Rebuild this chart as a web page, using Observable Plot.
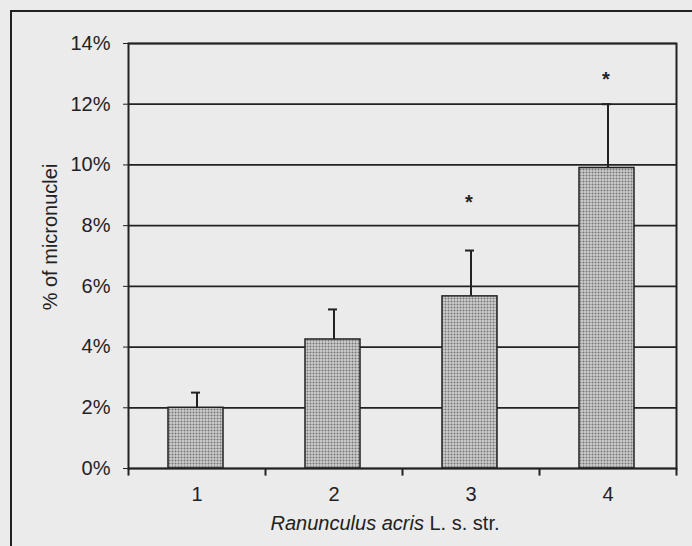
<!DOCTYPE html>
<html>
<head>
<meta charset="utf-8">
<script src="https://cdn.jsdelivr.net/npm/d3@7"></script>
<script src="https://cdn.jsdelivr.net/npm/@observablehq/plot@0.6"></script>
<style>
  html, body { margin: 0; padding: 0; background: #ebebeb; }
  #chart { width: 692px; height: 546px; overflow: hidden; }
</style>
</head>
<body>
<div id="chart"></div>
<script>
// ---- data ----
const categories = ["1", "2", "3", "4"];
const values = [2.0, 4.25, 5.67, 9.9];          // % of micronuclei
const errorTops = [2.5, 5.24, 7.18, 12.0];       // upper end of error bar
const stars = ["", "", "*", "*"];                // significance marks
const starY = [null, null, 8.75, 12.8];
const yTicks = [0, 2, 4, 6, 8, 10, 12, 14];
const yLabel = "% of micronuclei";
const xLabelItalic = "Ranunculus acris";
const xLabelRest = " L. s. str.";

const rows = categories.map((c, i) => ({cat: c, value: values[i], top: errorTops[i], star: stars[i], starY: starY[i]}));
const starRows = rows.filter(d => d.star);

const ink = "#222";

const plot = Plot.plot({
  width: 692,
  height: 546,
  marginLeft: 128,
  marginRight: 16,
  marginTop: 43,
  marginBottom: 78,
  style: {background: "transparent", fontFamily: "'Liberation Sans', Arial, sans-serif", fontSize: "20px", color: ink, overflow: "visible"},
  x: {domain: categories, padding: 0, tickSize: 0, tickPadding: 18, label: null},
  y: {domain: [0, 14], ticks: yTicks, tickFormat: d => d + "%", tickSize: 5, tickPadding: 13, label: null},
  marks: [
    Plot.ruleY(yTicks, {stroke: ink, strokeWidth: 1.7}),
    // category boundary ticks below the axis
    Plot.ruleX(categories, {x: d => d, y1: 0, y2: -0.25, dx: -68.5, stroke: ink, strokeWidth: 2}),
    Plot.ruleX(categories.slice(-1), {x: d => d, y1: 0, y2: -0.25, dx: 68.5, stroke: ink, strokeWidth: 2}),
    Plot.ruleX(rows, {x: "cat", y1: "value", y2: "top", stroke: ink, strokeWidth: 2}),
    Plot.tickY(rows, {x: "cat", y: "top", insetLeft: 63, insetRight: 65, stroke: ink, strokeWidth: 2}),
    Plot.barY(rows, {x: "cat", y: "value", insetLeft: 40, insetRight: 42, fill: "url(#stipple)", stroke: ink, strokeWidth: 1.5}),
    Plot.text(starRows, {x: "cat", y: "starY", text: "star", fontSize: 20, fontWeight: "bold", fill: ink, dx: -2}),
    Plot.frame({stroke: ink, strokeWidth: 2})
  ]
});

// stipple pattern for bars
const svg = d3.select(plot);
const defs = svg.insert("defs", ":first-child");
const pat = defs.append("pattern").attr("id", "stipple").attr("patternUnits", "userSpaceOnUse").attr("width", 3).attr("height", 3);
pat.append("rect").attr("width", 3).attr("height", 3).attr("fill", "#cdcdcd");
pat.append("circle").attr("cx", 1.5).attr("cy", 1.5).attr("r", 1).attr("fill", "#767676");

// outer frame of the scanned figure
svg.append("path").attr("d", "M11,700V11H700").attr("fill", "none").attr("stroke", ink).attr("stroke-width", 2);

// y axis title
svg.append("text")
  .attr("transform", "translate(57,237) rotate(-90)")
  .attr("text-anchor", "middle")
  .attr("fill", ink)
  .style("font-size", "20px")
  .text(yLabel);

// x axis title with italic genus/species
const xt = svg.append("text")
  .attr("x", 385).attr("y", 530)
  .attr("text-anchor", "middle")
  .attr("fill", ink)
  .style("font-size", "20px");
xt.append("tspan").attr("font-style", "italic").text(xLabelItalic);
xt.append("tspan").text(xLabelRest);

document.getElementById("chart").appendChild(plot);
</script>
</body>
</html>
